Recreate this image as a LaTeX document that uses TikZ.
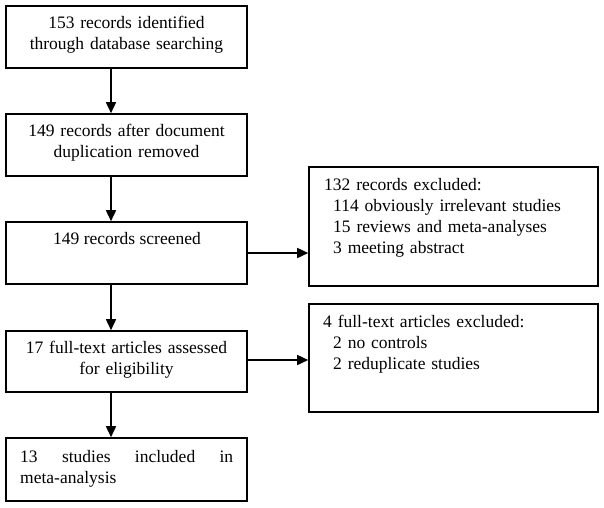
\documentclass[tikz,border=0pt]{standalone}
\usepackage{fontspec}
\setmainfont{Liberation Serif}
\usetikzlibrary{arrows.meta}
\begin{document}
\begin{tikzpicture}[x=1pt,y=-1pt,
  box/.style={draw,line width=1.6pt,minimum width=241pt,inner sep=0pt,rectangle},
  rbox/.style={draw,line width=1.6pt,minimum width=289pt,inner sep=0pt,rectangle},
  txt/.style={inner sep=0pt,font=\fontsize{17.5pt}{21pt}\selectfont},
  conn/.style={line width=1.6pt,-{Triangle[length=11pt,width=10pt]}}]
\useasboundingbox (0,0) rectangle (604,507);
% left column boxes
\node[box,minimum height=62pt] (b1) at (126.5,37) {};
\node[box,minimum height=62pt] (b2) at (126.5,145) {};
\node[box,minimum height=62pt] (b3) at (126.5,253) {};
\node[box,minimum height=61pt] (b4) at (126.5,361.5) {};
\node[box,minimum height=63pt] (b5) at (126.5,469.5) {};
% right boxes
\node[rbox,minimum height=119pt] (ra) at (453.5,226.5) {};
\node[rbox,minimum height=108pt] (rb) at (453.5,358) {};
% texts
\node[txt,text width=230pt,align=center,anchor=base] (t1) at (126.5,28) {153 records identified\\through database searching};
\node[txt,text width=230pt,align=center,anchor=base] (t2) at (126.5,136) {149 records after document\\duplication removed};
\node[txt,anchor=base] (t3) at (127,244) {149 records screened};
\node[txt,text width=230pt,align=center,anchor=base] (t4) at (126.5,353) {17 full-text articles assessed\\for eligibility};
\node[txt,text width=213pt,align=justify,anchor=base west] (t5) at (20,462) {13 studies included in\linebreak \mbox{meta-analysis}};
\node[txt,text width=270pt,align=left,anchor=base west] (ta) at (324,190) {132 records excluded:\\\hspace*{9pt}114 obviously irrelevant studies\\\hspace*{9pt}15 reviews and meta-analyses\\\hspace*{9pt}3 meeting abstract};
\node[txt,text width=270pt,align=left,anchor=base west] (tb) at (323,327) {4 full-text articles excluded:\\\hspace*{10pt}2 no controls\\\hspace*{10pt}2 reduplicate studies};
% connectors
\coordinate (a1) at (111,68);
\draw[conn] (111,0 |- b1.south) -- (111,0 |- b2.north);
\draw[conn] (111,0 |- b2.south) -- (111,0 |- b3.north);
\draw[conn] (111,0 |- b3.south) -- (111,0 |- b4.north);
\draw[conn] (111,0 |- b4.south) -- (111,0 |- b5.north);
\draw[conn] (b3.east |- 0,253) -- (ra.west |- 0,253);
\draw[conn] (b4.east |- 0,360) -- (rb.west |- 0,360);
\end{tikzpicture}
\end{document}
